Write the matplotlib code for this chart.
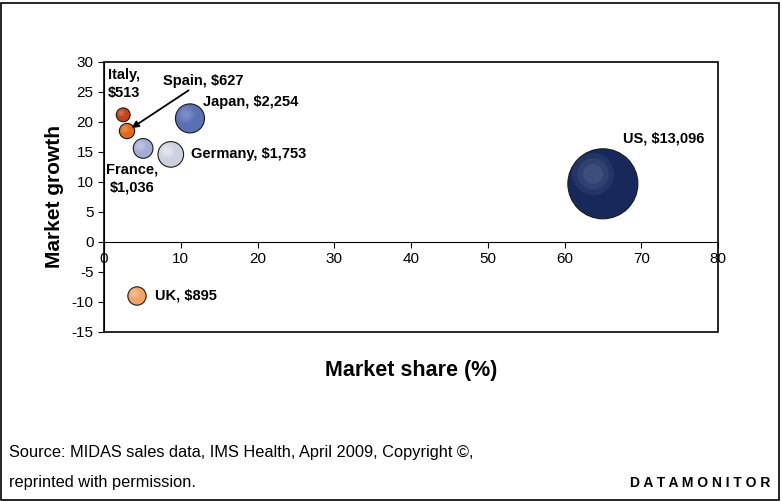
import numpy as np
import matplotlib.pyplot as plt
from matplotlib.patches import Rectangle

plt.rcParams['font.family'] = ['Liberation Sans', 'DejaVu Sans']
plt.rcParams['axes.unicode_minus'] = False

# data
countries = ['Italy', 'Spain', 'Japan', 'France', 'Germany', 'US', 'UK']
share = [2.5, 3.0, 11.2, 5.1, 8.7, 65.0, 4.3]
growth = [21.2, 18.5, 20.6, 15.6, 14.6, 9.7, -9.0]
sales = [513, 627, 2254, 1036, 1753, 13096, 895]
colors = ['#c4421a', '#e2661c', '#5b6fb3', '#a3acd4', '#cdd0de', '#17295a', '#f0a466']
highlights = ['#e48a60', '#f4a865', '#95a4d6', '#d2d8ee', '#f4f5f9', '#5a6e98', '#f9cfa5']

fig = plt.figure(figsize=(7.82, 5.01), dpi=100)
ax = fig.add_axes([104 / 782, 1 - 332 / 501, 614 / 782, 270 / 501])

sizes = np.array(sales) * 0.194
ax.scatter(share, growth, s=sizes, c=colors, edgecolors='#1a1a1a', linewidths=0.8, zorder=3)

# soft highlight shifted up-left like the 3d bubbles
r_px = np.sqrt(sizes) / 2 * 100 / 72
hx = np.array(share) - 0.28 * r_px * 80 / 614
hy = np.array(growth) + 0.28 * r_px * 45 / 270
for k, a in [(0.36, 0.18), (0.2, 0.22), (0.08, 0.3)]:
    ax.scatter(hx, hy, s=sizes * k, c=highlights, alpha=a, linewidths=0, zorder=4)

ax.set_xlim(0, 80)
ax.set_ylim(-15, 30)
ax.set_xticks(range(0, 81, 10))
ax.set_yticks(range(-15, 31, 5))
ax.tick_params(labelsize=11, length=4, width=0.8)
for s in ['top', 'right']:
    ax.spines[s].set_visible(False)
ax.spines['bottom'].set_position(('data', 0))
ax.add_patch(Rectangle((0, 0), 1, 1, transform=ax.transAxes, fill=False,
                       edgecolor='black', linewidth=1.2, zorder=5, clip_on=False))

lab = dict(fontsize=10.5, fontweight='bold', zorder=6)
ax.text(0.5, 29.0, 'Italy,\n$513', va='top', ha='left', linespacing=1.4, **lab)
ax.annotate('Spain, $627', xy=(3.6, 19.0), xytext=(7.7, 26.9), va='center', ha='left',
            arrowprops=dict(arrowstyle='-|>', color='black', lw=1.3, mutation_scale=10,
                            shrinkA=0, shrinkB=0), **lab)
ax.text(12.9, 23.3, 'Japan, $2,254', va='center', ha='left', **lab)
ax.text(11.4, 14.6, 'Germany, $1,753', va='center', ha='left', **lab)
ax.text(3.7, 10.6, 'France,\n$1,036', va='center', ha='center', linespacing=1.4, **lab)
ax.text(67.6, 17.3, 'US, $13,096', va='center', ha='left', **lab)
ax.text(6.7, -9.0, 'UK, $895', va='center', ha='left', **lab)

ax.set_xlabel('Market share (%)', fontsize=15.5, fontweight='bold', labelpad=0)
ax.xaxis.set_label_coords(0.5, -0.105)
ax.set_ylabel('Market growth', fontsize=15, fontweight='bold')
ax.yaxis.set_label_coords(-0.065, 0.5)

fig.patches.append(Rectangle((1 / 782, 1 / 501), 778 / 782, 497 / 501, transform=fig.transFigure,
                             fill=False, edgecolor='black', linewidth=1.2))
fig.text(9 / 782, 1 - 452 / 501, 'Source: MIDAS sales data, IMS Health, April 2009, Copyright \u00a9,',
         fontsize=11.8, va='center', ha='left')
fig.text(9 / 782, 1 - 483 / 501, 'reprinted with permission.', fontsize=11.8, va='center', ha='left')
fig.text(770 / 782, 1 - 483 / 501, ' '.join('DATAMONITOR'), fontsize=10, fontweight='bold',
         va='center', ha='right')

fig.savefig('out.png', dpi=100)
